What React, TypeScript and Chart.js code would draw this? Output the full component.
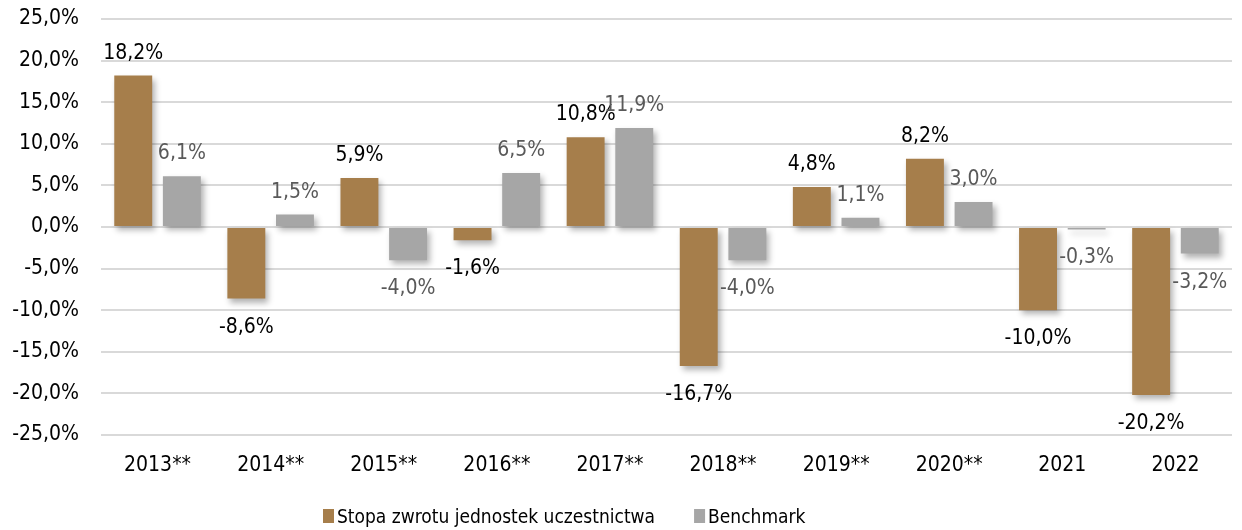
import React, { useEffect, useRef } from "react";
import { Chart, registerables } from "chart.js";

Chart.register(...registerables);

const categories = ["2013**", "2014**", "2015**", "2016**", "2017**", "2018**", "2019**", "2020**", "2021", "2022"];
const fundReturns = [18.2, -8.6, 5.9, -1.6, 10.8, -16.7, 4.8, 8.2, -10.0, -20.2];
const benchmarkReturns = [6.1, 1.5, -4.0, 6.5, 11.9, -4.0, 1.1, 3.0, -0.3, -3.2];
const seriesNames = ["Stopa zwrotu jednostek uczestnictwa", "Benchmark"];
const seriesColors = ["#A67E4B", "#A6A6A6"];
const labelColors = ["#000000", "#595959"];

const FONT = "'DejaVu Sans Condensed', 'DejaVu Sans', sans-serif";
const FS = 21;
const fmt = (v: number) => v.toFixed(1).replace(".", ",") + "%";

const shadowPlugin = {
  id: "barShadow",
  beforeDatasetsDraw(chart: any) {
    const ctx = chart.ctx;
    ctx.save();
    ctx.shadowColor = "rgba(0,0,0,0.3)";
    ctx.shadowBlur = 6;
    ctx.shadowOffsetX = 3;
    ctx.shadowOffsetY = 4;
  },
  afterDatasetsDraw(chart: any) {
    chart.ctx.restore();
  },
};

const labelPlugin = {
  id: "valueLabels",
  afterDatasetsDraw(chart: any) {
    const ctx = chart.ctx;
    ctx.save();
    ctx.font = `${FS}px ${FONT}`;
    ctx.textAlign = "center";
    chart.data.datasets.forEach((ds: any, di: number) => {
      const meta = chart.getDatasetMeta(di);
      ctx.fillStyle = labelColors[di];
      meta.data.forEach((bar: any, i: number) => {
        const v = ds.data[i];
        if (v >= 0) {
          ctx.textBaseline = "alphabetic";
          ctx.fillText(fmt(v), bar.x, bar.y - 17);
        } else {
          ctx.textBaseline = "top";
          ctx.fillText(fmt(v), bar.x, bar.y + 18);
        }
      });
    });
    ctx.restore();
  },
};

const legendPlugin = {
  id: "customLegend",
  afterDraw(chart: any) {
    const ctx = chart.ctx;
    ctx.save();
    ctx.font = `19px ${FONT}`;
    ctx.textBaseline = "alphabetic";
    ctx.textAlign = "left";
    const baseY = 523;
    let x = 323;
    seriesNames.forEach((name, i) => {
      ctx.fillStyle = seriesColors[i];
      ctx.fillRect(x, 509, 11, 14);
      ctx.fillStyle = "#000";
      ctx.fillText(name, x + 14, baseY);
      x += 14 + ctx.measureText(name).width + 39;
    });
    ctx.restore();
  },
};

export default function App() {
  const ref = useRef<HTMLCanvasElement>(null);
  useEffect(() => {
    if (!ref.current) return;
    const chart = new Chart(ref.current, {
      type: "bar",
      data: {
        labels: categories,
        datasets: [
          { label: seriesNames[0], data: fundReturns, backgroundColor: seriesColors[0] },
          { label: seriesNames[1], data: benchmarkReturns, backgroundColor: seriesColors[1] },
        ],
      },
      plugins: [shadowPlugin, labelPlugin, legendPlugin],
      options: {
        animation: false,
        responsive: false,
        maintainAspectRatio: false,
        datasets: { bar: { categoryPercentage: 0.86, barPercentage: 0.78 } },
        layout: { padding: { top: 19, right: 10, left: 0, bottom: 50 } },
        scales: {
          x: {
            afterFit(scale: any) {
              scale.height = 45;
              scale.paddingLeft = 0;
              scale.paddingRight = 0;
            },
            grid: { display: false, drawTicks: false },
            border: { display: false },
            ticks: { color: "#000", font: { family: FONT, size: FS }, padding: 18 },
          },
          y: {
            min: -25,
            max: 25,
            afterFit(scale: any) {
              scale.width = 101;
              scale.paddingTop = 0;
              scale.paddingBottom = 0;
            },
            grid: { color: "#d9d9d9", lineWidth: 2, drawTicks: false },
            border: { display: false },
            ticks: {
              stepSize: 5,
              color: "#000",
              padding: 22,
              font: { family: FONT, size: FS },
              callback: (v: any) => fmt(Number(v)),
            },
          },
        },
        plugins: {
          tooltip: { enabled: false },
          legend: { display: false },
        },
      },
    });
    return () => chart.destroy();
  }, []);
  return (
    <div style={{ position: "fixed", left: 0, top: 0, width: 1242, height: 530, background: "#fff" }}>
      <canvas ref={ref} width={1242} height={530} />
    </div>
  );
}
